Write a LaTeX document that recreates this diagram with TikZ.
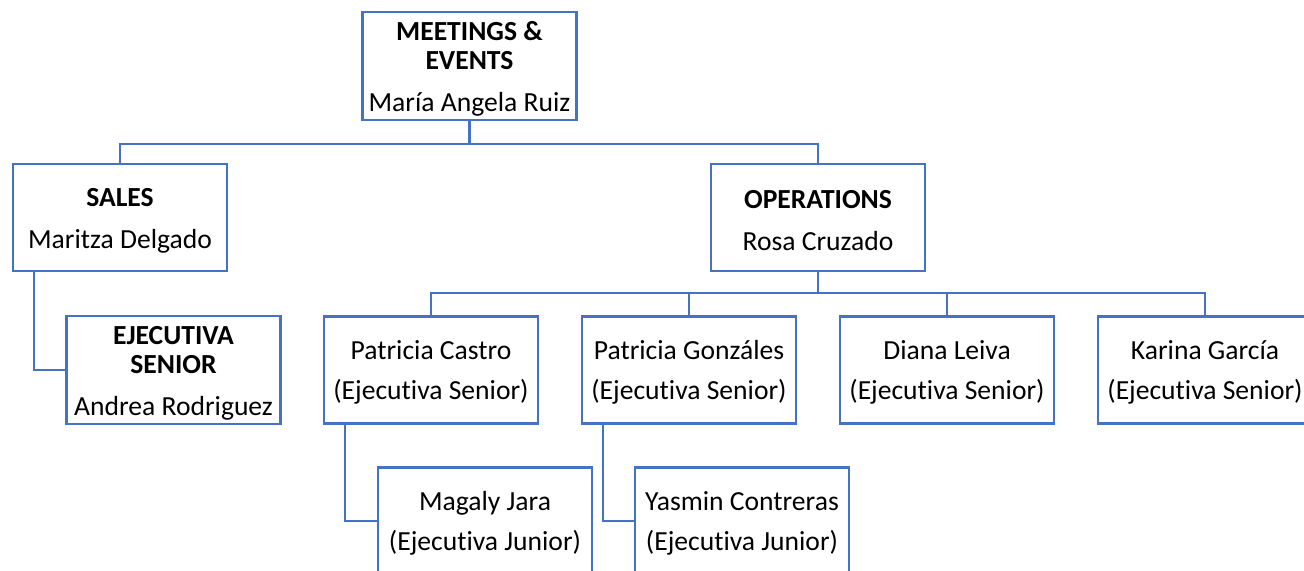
\documentclass[tikz,border=0pt]{standalone}
\usepackage{fontspec}
\setmainfont[Ligatures=NoCommon]{Carlito}
\usepackage{tikz}
\usetikzlibrary{positioning}
\definecolor{orgblue}{RGB}{68,114,196}
\newcommand{\ascstrut}{\rule{0pt}{12pt}}
\tikzstyle{unit} = [rectangle, minimum width=107pt, minimum height=53.5pt, inner sep=2pt, text centered, align=center, draw=orgblue, line width=1.25pt, font=\fontsize{13.8}{14.5}\selectfont]
\tikzstyle{link} = [draw=orgblue, line width=1.25pt]

\begin{document}
\begin{tikzpicture}[x=0.5pt, y=-0.5pt, node distance=129pt]

    \useasboundingbox (0,0) rectangle (1304,571);
    \clip (0,0) rectangle (1304,571);

    \node (meetings) [unit] at (469.5,66) {\ascstrut\textbf{MEETINGS \&}\\\textbf{EVENTS}\\[6.5pt]María Angela Ruiz};
    \node (sales) [unit] at (120,217.5) {\ascstrut\textbf{SALES}\\[6.5pt]Maritza Delgado};
    \node (ops) [unit] at (818,217.5) {\ascstrut\textbf{OPERATIONS}\\[6.5pt]Rosa Cruzado};
    \node (andrea) [unit] at (173.5,370) {\ascstrut\textbf{EJECUTIVA}\\\textbf{SENIOR}\\[6.5pt]Andrea Rodriguez};

    \node (castro) [unit] at (431,370) {\ascstrut Patricia Castro\\[5.5pt](Ejecutiva Senior)};
    \node (gonzales) [unit, right of=castro] {\ascstrut Patricia Gonzáles\\[5.5pt](Ejecutiva Senior)};
    \node (leiva) [unit, right of=gonzales] {\ascstrut Diana Leiva\\[5.5pt](Ejecutiva Senior)};
    \node (garcia) [unit, right of=leiva] {\ascstrut Karina García\\[5.5pt](Ejecutiva Senior)};

    \node (jara) [unit] at (485,521) {\ascstrut Magaly Jara\\[5.5pt](Ejecutiva Junior)};
    \node (contreras) [unit] at (742,521) {\ascstrut Yasmin Contreras\\[5.5pt](Ejecutiva Junior)};

    \draw [link] (meetings.south) -- ++(0,23) -| (sales.north);
    \draw [link] (meetings.south) -- ++(0,23) -| (ops.north);
    \draw [link] ([xshift=11pt]sales.south west) |- (andrea.west);

    \draw [link] (ops.south) -- ++(0,21) -| (castro.north);
    \draw [link] (ops.south) -- ++(0,21) -| (gonzales.north);
    \draw [link] (ops.south) -- ++(0,21) -| (leiva.north);
    \draw [link] (ops.south) -- ++(0,21) -| (garcia.north);

    \draw [link] ([xshift=11pt]castro.south west) |- (jara.west);
    \draw [link] ([xshift=11pt]gonzales.south west) |- (contreras.west);

\end{tikzpicture}
\end{document}
